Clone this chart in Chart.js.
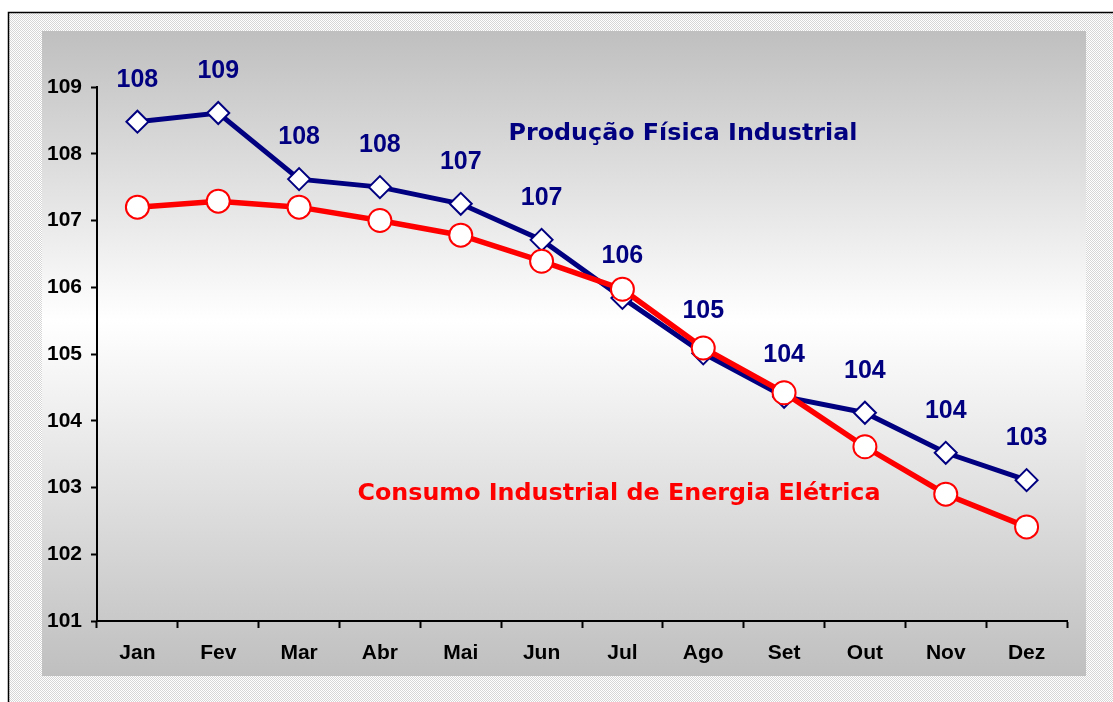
<!DOCTYPE html>
<html>
<head>
<meta charset="utf-8">
<script src="https://cdn.jsdelivr.net/npm/chart.js@4.4.1/dist/chart.umd.min.js"></script>
<style>
  html, body { margin: 0; padding: 0; background: #ffffff; }
  #wrap { width: 1113px; height: 702px; position: relative; }
</style>
</head>
<body>
<div id="wrap"><canvas id="chart" width="1113" height="702"></canvas></div>
<script>
// months on the x axis
const months = ['Jan', 'Fev', 'Mar', 'Abr', 'Mai', 'Jun', 'Jul', 'Ago', 'Set', 'Out', 'Nov', 'Dez'];
// Produção Física Industrial
const producao = [108.48, 108.61, 107.62, 107.50, 107.25, 106.71, 105.84, 105.01, 104.36, 104.12, 103.52, 103.11];
const producaoLabels = ['108', '109', '108', '108', '107', '107', '106', '105', '104', '104', '104', '103'];
// Consumo Industrial de Energia Elétrica
const consumo = [107.20, 107.29, 107.20, 107.00, 106.78, 106.39, 105.97, 105.09, 104.42, 103.61, 102.90, 102.41];
const yTicks = [101, 102, 103, 104, 105, 106, 107, 108, 109];

// page background: dotted frame, then gradient plot panel
const backdrop = {
    id: 'backdrop',
    beforeDraw(chart) {
        const ctx = chart.ctx;
        ctx.save();
        const tile = document.createElement('canvas');
        tile.width = 2; tile.height = 2;
        const t = tile.getContext('2d');
        t.fillStyle = '#ffffff'; t.fillRect(0, 0, 2, 2);
        t.fillStyle = '#d6d6d6'; t.fillRect(0, 0, 1, 1); t.fillRect(1, 1, 1, 1);
        ctx.fillStyle = ctx.createPattern(tile, 'repeat');
        ctx.fillRect(8, 12, chart.width - 8, chart.height - 12);
        ctx.strokeStyle = '#000000';
        ctx.lineWidth = 1.5;
        ctx.beginPath();
        ctx.moveTo(8.5, chart.height);
        ctx.lineTo(8.5, 12.5);
        ctx.lineTo(chart.width, 12.5);
        ctx.stroke();
        const g = ctx.createLinearGradient(0, 31, 0, 676);
        g.addColorStop(0, '#bfbfbf');
        g.addColorStop(0.45, '#ffffff');
        g.addColorStop(1, '#bfbfbf');
        ctx.fillStyle = g;
        ctx.fillRect(42, 31, 1044, 645);
        ctx.restore();
    }
};

// value labels above the blue line and the two series titles
const annotations = {
    id: 'annotations',
    afterDatasetsDraw(chart) {
        const ctx = chart.ctx;
        ctx.save();
        ctx.font = 'bold 25px "Liberation Sans", Arial, sans-serif';
        ctx.fillStyle = '#000080';
        ctx.textAlign = 'center';
        ctx.textBaseline = 'middle';
        chart.getDatasetMeta(1).data.forEach((pt, i) => {
            ctx.fillText(producaoLabels[i], pt.x, pt.y - 42);
        });
        ctx.font = 'bold 23.8px "DejaVu Sans", Verdana, sans-serif';
        ctx.fillText('Produção Física Industrial', 683, 134);
        ctx.fillStyle = '#ff0000';
        ctx.fillText('Consumo Industrial de Energia Elétrica', 619, 494);
        ctx.restore();
    }
};

const ctx = document.getElementById('chart').getContext('2d');
const myChart = new Chart(ctx, {
    type: 'line',
    data: {
        labels: months,
        datasets: [{
            label: 'Consumo Industrial de Energia Elétrica',
            data: consumo,
            borderColor: '#ff0000',
            borderWidth: 5.5,
            pointStyle: 'circle',
            pointRadius: 11.5,
            pointBorderWidth: 2,
            pointBackgroundColor: '#ffffff',
            pointBorderColor: '#ff0000',
            tension: 0
        }, {
            label: 'Produção Física Industrial',
            data: producao,
            borderColor: '#000080',
            borderWidth: 5,
            pointStyle: 'rectRot',
            pointRadius: 11,
            pointBorderWidth: 2,
            pointBackgroundColor: '#ffffff',
            pointBorderColor: '#000080',
            tension: 0
        }]
    },
    options: {
        responsive: false,
        animation: false,
        events: [],
        layout: { padding: { left: 0, right: 46, top: 87, bottom: 0 } },
        plugins: {
            legend: { display: false },
            tooltip: { enabled: false }
        },
        scales: {
            x: {
                offset: true,
                grid: { offset: true, drawOnChartArea: false, tickLength: 7, tickColor: '#000000', tickWidth: 2 },
                border: { color: '#000000', width: 2 },
                ticks: {
                    color: '#000000',
                    padding: 13,
                    font: { family: '"Liberation Sans", Arial, sans-serif', size: 21, weight: 'bold' }
                },
                afterFit(scale) { scale.height = 81; }
            },
            y: {
                min: 101,
                max: 109,
                afterBuildTicks(scale) { scale.ticks = yTicks.map(v => ({ value: v })); },
                grid: { drawOnChartArea: false, tickLength: 6, tickColor: '#000000', tickWidth: 2 },
                border: { color: '#000000', width: 2 },
                ticks: {
                    color: '#000000',
                    padding: 9,
                    font: { family: '"Liberation Sans", Arial, sans-serif', size: 21, weight: 'bold' }
                },
                afterFit(scale) { scale.width = 97; }
            }
        }
    },
    plugins: [backdrop, annotations]
});
</script>
</body>
</html>
